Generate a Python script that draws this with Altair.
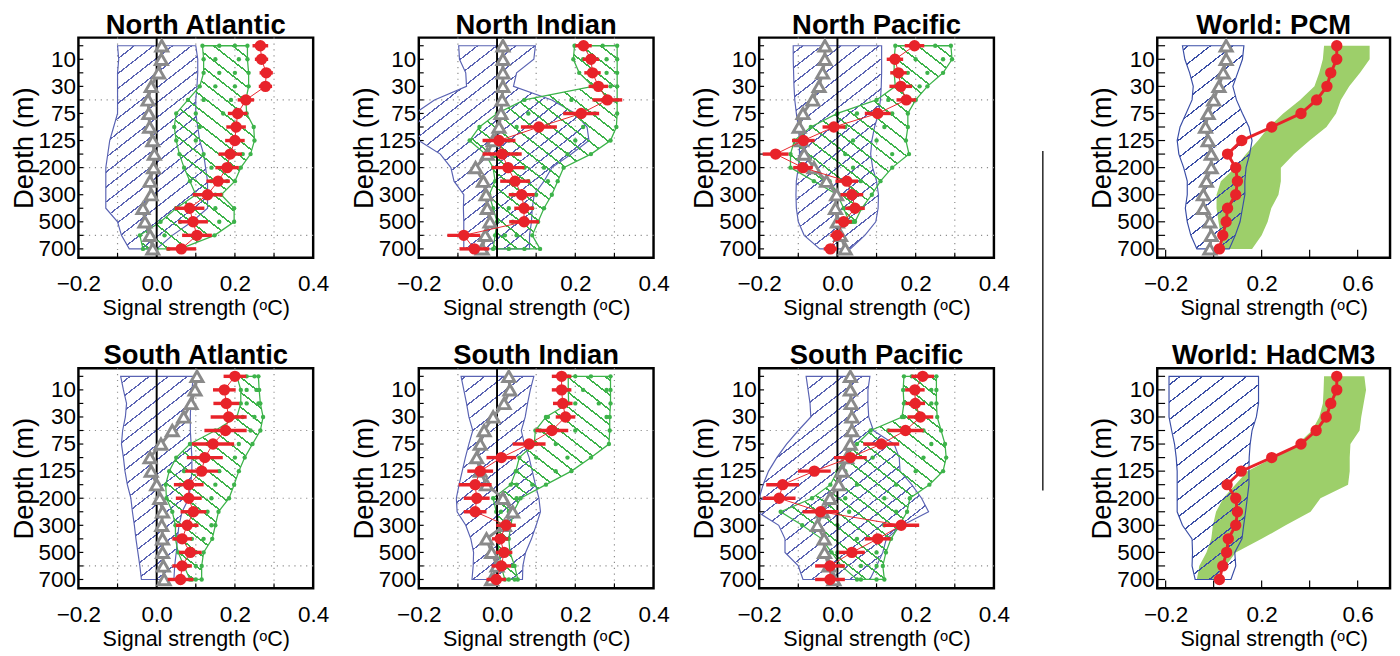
import json
import altair as alt
import pandas as pd
import numpy as np

# ---------------- data ----------------
LEVELS = list(range(16))
DEPTH_LABELS = ["10", "30", "75", "125", "200", "300", "500", "700"]
GRID_X = [-0.1, 0.1, 0.2, 0.3]
GRID_LEVELS = [4, 9, 14]
REG_XTICKS = [-0.1, 0.0, 0.1, 0.2, 0.3]
REG_XLABELS = [-0.2, 0.0, 0.2, 0.4]
WORLD_XTICKS = [-0.2, 0.0, 0.2, 0.4, 0.6]
WORLD_XLABELS = [-0.2, 0.2, 0.6]

NA_BLUE_LO = [-0.100, -0.097, -0.100, -0.100, -0.100, -0.100, -0.110, -0.120, -0.125, -0.130, -0.130, -0.130, -0.130, -0.100, -0.090, -0.070]
NA_BLUE_HI = [0.100, 0.105, 0.105, 0.103, 0.100, 0.100, 0.105, 0.110, 0.120, 0.125, 0.130, 0.130, 0.130, 0.090, 0.040, 0.000]
NA_GREEN_LO = [0.117, 0.120, 0.120, 0.110, 0.080, 0.050, 0.045, 0.050, 0.058, 0.070, 0.085, 0.100, 0.050, 0.010, -0.043, -0.035]
NA_GREEN_HI = [0.232, 0.232, 0.235, 0.235, 0.228, 0.230, 0.248, 0.250, 0.240, 0.215, 0.200, 0.165, 0.198, 0.198, 0.148, 0.060]
NA_GREEN_A = [0.160, 0.150, 0.160, 0.150, 0.120, 0.100, 0.110, 0.100, 0.120, 0.140, 0.140, 0.120, 0.080, 0.060, 0.020, 0.000]
NA_GREEN_B = [0.200, 0.210, 0.200, 0.200, 0.190, 0.170, 0.200, 0.200, 0.220, 0.190, 0.180, 0.150, 0.150, 0.160, 0.100, 0.030]
NA_GRAY = [0.013, 0.012, 0.005, -0.014, -0.022, -0.020, -0.018, -0.010, -0.006, -0.008, -0.017, -0.014, -0.035, -0.030, -0.017, -0.010]
NA_RED = [0.265, 0.268, 0.280, 0.278, 0.228, 0.207, 0.203, 0.200, 0.188, 0.180, 0.157, 0.130, 0.084, 0.093, 0.103, 0.063]
NA_ERR = [0.020, 0.017, 0.017, 0.017, 0.021, 0.025, 0.025, 0.025, 0.030, 0.030, 0.030, 0.038, 0.038, 0.038, 0.038, 0.038]

NI_BLUE_LO = [-0.098, -0.096, -0.080, -0.078, -0.160, -0.210, -0.220, -0.200, -0.145, -0.118, -0.110, -0.085, -0.086, -0.085, -0.085, -0.085]
NI_BLUE_HI = [0.098, 0.094, 0.050, 0.042, 0.140, 0.200, 0.230, 0.235, 0.190, 0.140, 0.120, 0.095, 0.090, 0.088, 0.083, 0.083]
NI_GREEN_LO = [0.198, 0.195, 0.210, 0.245, 0.070, 0.000, -0.045, -0.070, -0.030, -0.010, -0.005, -0.020, -0.010, 0.000, -0.005, -0.010]
NI_GREEN_HI = [0.307, 0.307, 0.307, 0.307, 0.307, 0.307, 0.305, 0.290, 0.240, 0.170, 0.155, 0.140, 0.120, 0.105, 0.090, 0.110]
NI_GREEN_A = [0.220, 0.220, 0.240, 0.260, 0.190, 0.080, 0.050, 0.030, 0.050, 0.070, 0.080, 0.040, 0.030, 0.040, 0.020, 0.030]
NI_GREEN_B = [0.270, 0.280, 0.280, 0.290, 0.270, 0.250, 0.220, 0.200, 0.180, 0.120, 0.130, 0.100, 0.090, 0.070, 0.050, 0.070]
NI_GRAY = [0.015, 0.015, 0.015, 0.015, 0.013, 0.010, 0.005, -0.010, -0.025, -0.055, -0.035, -0.028, -0.025, -0.018, -0.030, -0.038]
NI_RED = [0.221, 0.240, 0.244, 0.259, 0.282, 0.215, 0.107, 0.005, 0.013, 0.028, 0.046, 0.063, 0.069, 0.069, -0.085, -0.058]
NI_ERR = [0.021, 0.021, 0.021, 0.025, 0.038, 0.046, 0.046, 0.042, 0.050, 0.042, 0.038, 0.033, 0.025, 0.038, 0.042, 0.038]

NP_BLUE_LO = [-0.113, -0.113, -0.112, -0.111, -0.109, -0.105, -0.100, -0.097, -0.097, -0.100, -0.105, -0.106, -0.105, -0.100, -0.085, -0.045]
NP_BLUE_HI = [0.113, 0.113, 0.113, 0.112, 0.110, 0.105, 0.095, 0.088, 0.085, 0.090, 0.100, 0.105, 0.104, 0.098, 0.070, 0.033]
NP_GREEN_LO = [0.148, 0.145, 0.145, 0.148, 0.100, 0.000, -0.068, -0.110, -0.120, -0.120, -0.060, 0.000, 0.016, 0.030]
NP_GREEN_HI = [0.290, 0.293, 0.270, 0.230, 0.200, 0.180, 0.180, 0.175, 0.183, 0.140, 0.110, 0.088, 0.062, 0.045]
NP_GREEN_A = [0.190, 0.200, 0.180, 0.170, 0.130, 0.050, 0.020, 0.040, 0.020, -0.060, -0.020, 0.020, 0.030, 0.035]
NP_GREEN_B = [0.250, 0.270, 0.230, 0.210, 0.180, 0.140, 0.120, 0.100, 0.140, 0.040, 0.060, 0.050, 0.050, 0.040]
NP_GRAY = [-0.032, -0.032, -0.038, -0.047, -0.063, -0.088, -0.098, -0.092, -0.085, -0.060, -0.028, -0.002, -0.005, 0.000, 0.008, 0.020]
NP_RED = [0.197, 0.147, 0.156, 0.162, 0.176, 0.103, -0.009, -0.087, -0.158, -0.088, 0.024, 0.037, 0.045, 0.016, -0.001, -0.018]
NP_ERR = [0.025, 0.021, 0.021, 0.029, 0.025, 0.033, 0.029, 0.029, 0.033, 0.025, 0.029, 0.029, 0.025, 0.021, 0.017, 0.017]

SA_BLUE_LO = [-0.092, -0.085, -0.077, -0.080, -0.087, -0.090, -0.085, -0.081, -0.075, -0.066, -0.062, -0.057, -0.053, -0.048, -0.043, -0.039]
SA_BLUE_HI = [0.094, 0.090, 0.087, 0.086, 0.086, 0.088, 0.090, 0.090, 0.087, 0.082, 0.065, 0.057, 0.053, 0.050, 0.046, 0.044]
SA_GREEN_LO = [0.205, 0.215, 0.215, 0.205, 0.150, 0.085, 0.050, 0.032, 0.023, 0.025, 0.040, 0.048, 0.048, 0.055, 0.070, 0.085]
SA_GREEN_HI = [0.260, 0.262, 0.265, 0.272, 0.265, 0.245, 0.225, 0.210, 0.198, 0.185, 0.158, 0.150, 0.142, 0.120, 0.115, 0.115]
SA_GREEN_A = [0.230, 0.230, 0.230, 0.220, 0.180, 0.130, 0.100, 0.070, 0.060, 0.070, 0.090, 0.100, 0.090, 0.080, 0.080, 0.090]
SA_GREEN_B = [0.250, 0.255, 0.260, 0.250, 0.240, 0.210, 0.200, 0.160, 0.150, 0.140, 0.130, 0.140, 0.120, 0.100, 0.100, 0.100]
SA_GRAY = [0.103, 0.098, 0.088, 0.069, 0.040, 0.011, -0.017, -0.014, 0.000, 0.008, 0.015, 0.013, 0.015, 0.015, 0.017, 0.019]
SA_RED = [0.200, 0.173, 0.178, 0.184, 0.176, 0.144, 0.123, 0.115, 0.082, 0.082, 0.094, 0.078, 0.065, 0.086, 0.065, 0.061]
SA_ERR = [0.029, 0.029, 0.033, 0.046, 0.054, 0.054, 0.046, 0.042, 0.038, 0.033, 0.033, 0.029, 0.025, 0.029, 0.025, 0.033]

SI_BLUE_LO = [-0.092, -0.085, -0.078, -0.072, -0.062, -0.072, -0.081, -0.089, -0.097, -0.104, -0.102, -0.080, -0.067, -0.060, -0.061, -0.064]
SI_BLUE_HI = [0.094, 0.085, 0.078, 0.072, 0.062, 0.070, 0.082, 0.090, 0.098, 0.107, 0.111, 0.100, 0.088, 0.073, 0.066, 0.065]
SI_GREEN_LO = [0.182, 0.182, 0.183, 0.125, 0.098, 0.095, 0.057, 0.048, 0.035, -0.010, -0.002, 0.005, 0.000, 0.005, 0.010, 0.020]
SI_GREEN_HI = [0.290, 0.290, 0.290, 0.288, 0.288, 0.286, 0.240, 0.190, 0.125, 0.060, 0.042, 0.035, 0.030, 0.033, 0.045, 0.053]
SI_GREEN_A = [0.200, 0.220, 0.200, 0.130, 0.110, 0.100, 0.100, 0.050, 0.050, 0.020, 0.010, 0.010, 0.010, 0.015, 0.020, 0.030]
SI_GREEN_B = [0.240, 0.280, 0.260, 0.280, 0.200, 0.150, 0.180, 0.150, 0.090, 0.050, 0.030, 0.030, 0.025, 0.030, 0.040, 0.045]
SI_GRAY = [0.030, 0.033, 0.018, -0.010, -0.033, -0.043, -0.052, -0.043, -0.027, 0.015, 0.040, 0.019, -0.027, -0.014, 0.000, -0.014]
SI_RED = [0.165, 0.165, 0.168, 0.175, 0.140, 0.082, 0.011, -0.043, -0.056, -0.052, -0.056, 0.023, 0.008, 0.018, 0.011, -0.002]
SI_ERR = [0.025, 0.025, 0.025, 0.025, 0.042, 0.042, 0.038, 0.033, 0.042, 0.033, 0.029, 0.025, 0.021, 0.021, 0.025, 0.025]

SP_BLUE_LO = [-0.080, -0.075, -0.070, -0.068, -0.100, -0.130, -0.155, -0.176, -0.190, -0.200, -0.205, -0.150, -0.134, -0.134, -0.100, -0.088]
SP_BLUE_HI = [0.083, 0.078, 0.078, 0.080, 0.092, 0.145, 0.158, 0.160, 0.190, 0.215, 0.233, 0.166, 0.125, 0.116, 0.100, 0.083]
SP_GREEN_LO = [0.170, 0.168, 0.170, 0.165, 0.085, 0.050, 0.020, 0.000, -0.018, -0.065, -0.145, -0.090, -0.040, -0.015, 0.010, 0.050]
SP_GREEN_HI = [0.253, 0.253, 0.253, 0.255, 0.265, 0.275, 0.278, 0.270, 0.235, 0.185, 0.178, 0.158, 0.137, 0.124, 0.116, 0.120]
SP_GREEN_A = [0.190, 0.190, 0.200, 0.170, 0.130, 0.100, 0.090, 0.020, 0.050, 0.020, 0.030, 0.000, 0.050, 0.000, 0.060, 0.060]
SP_GREEN_B = [0.230, 0.240, 0.240, 0.200, 0.220, 0.240, 0.220, 0.200, 0.150, 0.120, 0.150, 0.120, 0.100, 0.100, 0.100, 0.100]
SP_GRAY = [0.033, 0.033, 0.035, 0.037, 0.037, 0.033, 0.024, 0.012, 0.003, -0.019, -0.038, -0.051, -0.034, -0.033, -0.022, -0.009]
SP_RED = [0.218, 0.198, 0.199, 0.212, 0.174, 0.112, 0.033, -0.059, -0.140, -0.149, -0.043, 0.163, 0.103, 0.037, -0.019, -0.019]
SP_ERR = [0.029, 0.025, 0.025, 0.033, 0.046, 0.046, 0.042, 0.042, 0.042, 0.042, 0.046, 0.046, 0.033, 0.033, 0.038, 0.038]

PCM_BLUE_LO = [-0.130, -0.120, -0.100, -0.085, -0.090, -0.115, -0.140, -0.152, -0.145, -0.125, -0.110, -0.110, -0.118, -0.110, -0.095, -0.070]
PCM_BLUE_HI = [0.126, 0.120, 0.100, 0.080, 0.095, 0.120, 0.147, 0.160, 0.150, 0.135, 0.130, 0.130, 0.120, 0.110, 0.090, 0.065]
PCM_GREEN_LO = [0.460, 0.455, 0.440, 0.420, 0.360, 0.290, 0.230, 0.185, 0.135, 0.090, 0.030, 0.012, 0.012, 0.020, 0.030, 0.040]
PCM_GREEN_HI = [0.650, 0.650, 0.610, 0.565, 0.530, 0.510, 0.470, 0.400, 0.335, 0.280, 0.280, 0.270, 0.240, 0.225, 0.200, 0.160]
PCM_GRAY = [0.052, 0.052, 0.040, 0.022, 0.000, -0.023, -0.034, -0.023, -0.010, -0.010, -0.030, -0.043, -0.043, -0.016, -0.010, -0.016]
PCM_RED = [0.513, 0.513, 0.488, 0.472, 0.429, 0.364, 0.242, 0.117, 0.058, 0.092, 0.099, 0.092, 0.058, 0.052, 0.038, 0.024]

HAD_BLUE_LO = [-0.186, -0.186, -0.186, -0.186, -0.175, -0.163, -0.156, -0.152, -0.152, -0.152, -0.152, -0.130, -0.090, -0.088, -0.090, -0.077]
HAD_BLUE_HI = [0.187, 0.187, 0.187, 0.178, 0.160, 0.152, 0.148, 0.147, 0.147, 0.140, 0.133, 0.125, 0.118, 0.088, 0.092, 0.072]
HAD_GREEN_LO = [0.460, 0.458, 0.455, 0.440, 0.410, 0.350, 0.250, 0.140, 0.090, 0.040, 0.010, -0.003, -0.010, -0.030, -0.060, -0.070]
HAD_GREEN_HI = [0.628, 0.635, 0.625, 0.615, 0.608, 0.570, 0.567, 0.567, 0.560, 0.445, 0.404, 0.300, 0.200, 0.092, 0.050, 0.000]
HAD_RED = [0.513, 0.513, 0.488, 0.469, 0.427, 0.364, 0.242, 0.115, 0.056, 0.092, 0.099, 0.092, 0.061, 0.054, 0.038, 0.024]

# ---------------- style ----------------
FONT = "Liberation Sans"
RED = "#e8232a"
GRAY = "#8a8a8a"
GREEN = "#3db34a"
BLUE = "#5a63b3"
WBLUE = "#3a4ea6"
LGREEN = "#9dcf6a"
CLEAR = "rgba(255,255,255,0)"

PW, PH = 240, 225          # regional plot size
WW = 238                   # world plot width
YDOM = [-0.6, 15.65]
XDOM = [-0.2, 0.4]
WXDOM = [-0.235, 0.735]
PXL = PH / (YDOM[1] - YDOM[0])

LABEL_EXPR = ("datum.value % 2 == 1 ? " + json.dumps(DEPTH_LABELS)
              + "[(datum.value - 1) / 2] : ''")


def hatch(lo, hi, n, pxu, color, period, lw, theta, slash):
    """Diagonal stripe fill as a linear gradient in bounding-box units."""
    W = (max(hi) - min(lo)) * pxu
    H = (n - 1) * PXL
    s, c = np.sin(np.radians(theta)), np.cos(np.radians(theta))
    D = W * s + H * c
    k = D / (W * W * s * s + H * H * c * c)
    dx, dy = k * W * s, k * H * c
    if slash:
        x1, y1, x2, y2 = 0.0, 0.0, dx, dy
    else:
        x1, y1, x2, y2 = 0.0, 1.0, dx, 1.0 - dy
    hw = lw / 2.0 / D
    stops = [alt.GradientStop(offset=0, color=CLEAR)]
    t = (period * 0.5) / D
    while t + hw < 1:
        a, b = round(float(t - hw), 5), round(float(t + hw), 5)
        stops += [alt.GradientStop(offset=a, color=CLEAR),
                  alt.GradientStop(offset=a, color=color),
                  alt.GradientStop(offset=b, color=color),
                  alt.GradientStop(offset=b, color=CLEAR)]
        t += period / D
    stops.append(alt.GradientStop(offset=1, color=CLEAR))
    return alt.LinearGradient(gradient="linear", stops=stops,
                              x1=float(x1), y1=float(y1),
                              x2=round(float(x2), 5), y2=round(float(y2), 5))


def yaxis():
    return alt.Axis(title="Depth (m)", values=LEVELS, labelExpr=LABEL_EXPR,
                    ticks=False, tickSize=0, domain=False, grid=False,
                    labelFontSize=23, labelPadding=3, labelOverlap=False,
                    titleFontSize=28, titlePadding=0, titleFontWeight="normal")


def xaxis(values):
    return alt.Axis(title="Signal strength (ᵒC)", values=values, format=".1f",
                    ticks=False, tickSize=0, domain=False, grid=False,
                    labelFontSize=23, labelPadding=16, labelFlush=False,
                    labelOverlap=False, titleFontSize=22, titlePadding=2,
                    titleFontWeight="normal")


def band_df(lo, hi):
    return pd.DataFrame({"level": LEVELS[:len(lo)], "lo": lo, "hi": hi})


def panel(title, xdom, width, xlabels, xticks, tick_len, blue_lo, blue_hi,
          blue_color, blue_period, red, err=None, gray=None,
          green_lo=None, green_hi=None, green_a=None, green_b=None,
          solid_green=False, grid=True, red_w=1.0):
    pxu = width / (xdom[1] - xdom[0])
    xs = alt.Scale(domain=xdom, nice=False, zero=False)
    ys = alt.Scale(domain=YDOM, nice=False, zero=False, reverse=True)
    xa = xaxis(xlabels)
    ya = yaxis()

    def X(f):
        return alt.X(f, type="quantitative", scale=xs, axis=xa)

    def Y(f="level"):
        return alt.Y(f, type="quantitative", scale=ys, axis=ya)

    layers = []
    if grid:
        layers.append(alt.Chart(pd.DataFrame({"x": GRID_X})).mark_rule(
            color="#8c8c8c", strokeWidth=1.2, strokeDash=[1.2, 4.8]).encode(x=X("x")))
        layers.append(alt.Chart(pd.DataFrame({"level": GRID_LEVELS})).mark_rule(
            color="#8c8c8c", strokeWidth=1.2, strokeDash=[1.2, 4.8]).encode(y=Y()))
    # inward ticks
    layers.append(alt.Chart(pd.DataFrame({"level": LEVELS})).mark_rule(
        color="black", strokeWidth=1.2).encode(
        y=Y(), x=alt.value(0), x2=alt.value(tick_len)))
    layers.append(alt.Chart(pd.DataFrame({"x": xticks})).mark_rule(
        color="black", strokeWidth=1.2).encode(
        x=X("x"), y=alt.value(PH), y2=alt.value(PH - tick_len)))

    if solid_green:
        layers.append(alt.Chart(band_df(green_lo, green_hi)).mark_area(
            orient="horizontal", fill=LGREEN, opacity=1, clip=True).encode(
            y=Y(), x=X("lo"), x2=alt.X2("hi")))

    blue_grad = hatch(blue_lo, blue_hi, len(blue_lo), pxu, blue_color,
                      blue_period, 1.3, 38, True)
    layers.append(alt.Chart(band_df(blue_lo, blue_hi)).mark_area(
        orient="horizontal", fill=blue_grad, stroke=blue_color, strokeWidth=1.2,
        opacity=1, clip=True).encode(y=Y(), x=X("lo"), x2=alt.X2("hi")))

    if green_lo is not None and not solid_green:
        green_grad = hatch(green_lo, green_hi, len(green_lo), pxu, GREEN,
                           12, 1.6, 38, False)
        layers.append(alt.Chart(band_df(green_lo, green_hi)).mark_area(
            orient="horizontal", fill=green_grad, stroke=GREEN, strokeWidth=1.3,
            opacity=1, clip=True).encode(y=Y(), x=X("lo"), x2=alt.X2("hi")))
        rows = []
        for i in range(len(green_lo)):
            for v in (green_lo[i], green_a[i], green_b[i], green_hi[i]):
                rows.append({"level": i, "x": v})
        layers.append(alt.Chart(pd.DataFrame(rows)).mark_circle(
            color=GREEN, size=20, opacity=1).encode(y=Y(), x=X("x")))

    if grid:
        layers.append(alt.Chart(pd.DataFrame({"x": [0.0]})).mark_rule(
            color="black", strokeWidth=2).encode(x=X("x")))

    if gray is not None:
        gdf = pd.DataFrame({"level": LEVELS, "x": gray})
        layers.append(alt.Chart(gdf).mark_line(color=GRAY, strokeWidth=3).encode(
            y=Y(), x=X("x"), order=alt.Order("level:Q")))
        layers.append(alt.Chart(gdf).mark_point(
            shape="triangle-up", filled=True, fill="white", stroke=GRAY,
            strokeWidth=3, size=150, opacity=1).encode(y=Y(), x=X("x")))

    rdf = pd.DataFrame({"level": LEVELS, "x": red})
    layers.append(alt.Chart(rdf).mark_line(color=RED, strokeWidth=red_w).encode(
        y=Y(), x=X("x"), order=alt.Order("level:Q")))
    if err is not None:
        edf = pd.DataFrame({"level": LEVELS,
                            "lo": [r - e for r, e in zip(red, err)],
                            "hi": [r + e for r, e in zip(red, err)]})
        layers.append(alt.Chart(edf).mark_rule(color=RED, strokeWidth=3.5).encode(
            y=Y(), x=X("lo"), x2=alt.X2("hi")))
    layers.append(alt.Chart(rdf).mark_circle(color=RED, size=135, opacity=1).encode(
        y=Y(), x=X("x")))

    # panel title as a text mark just above the frame
    layers.append(alt.Chart(pd.DataFrame({"t": [title]})).mark_text(
        font=FONT, fontSize=28, fontWeight="bold", baseline="alphabetic",
        align="center", color="black").encode(
        x=alt.value(width / 2), y=alt.value(-4), text=alt.Text("t:N")))

    return alt.layer(*layers).properties(width=width, height=PH)


def regional(title, bl, bh, gl, gh, ga, gb, gray, red, err):
    return panel(title, XDOM, PW, REG_XLABELS, REG_XTICKS, 5, bl, bh, BLUE, 12,
                 red, err=err, gray=gray, green_lo=gl, green_hi=gh,
                 green_a=ga, green_b=gb)


NA = regional("North Atlantic", NA_BLUE_LO, NA_BLUE_HI, NA_GREEN_LO, NA_GREEN_HI,
              NA_GREEN_A, NA_GREEN_B, NA_GRAY, NA_RED, NA_ERR)
NI = regional("North Indian", NI_BLUE_LO, NI_BLUE_HI, NI_GREEN_LO, NI_GREEN_HI,
              NI_GREEN_A, NI_GREEN_B, NI_GRAY, NI_RED, NI_ERR)
NP = regional("North Pacific", NP_BLUE_LO, NP_BLUE_HI, NP_GREEN_LO, NP_GREEN_HI,
              NP_GREEN_A, NP_GREEN_B, NP_GRAY, NP_RED, NP_ERR)
SA = regional("South Atlantic", SA_BLUE_LO, SA_BLUE_HI, SA_GREEN_LO, SA_GREEN_HI,
              SA_GREEN_A, SA_GREEN_B, SA_GRAY, SA_RED, SA_ERR)
SI = regional("South Indian", SI_BLUE_LO, SI_BLUE_HI, SI_GREEN_LO, SI_GREEN_HI,
              SI_GREEN_A, SI_GREEN_B, SI_GRAY, SI_RED, SI_ERR)
SP = regional("South Pacific", SP_BLUE_LO, SP_BLUE_HI, SP_GREEN_LO, SP_GREEN_HI,
              SP_GREEN_A, SP_GREEN_B, SP_GRAY, SP_RED, SP_ERR)

PCM = panel("World: PCM", WXDOM, WW, WORLD_XLABELS, WORLD_XTICKS, 8,
            PCM_BLUE_LO, PCM_BLUE_HI, WBLUE, 14, PCM_RED, gray=PCM_GRAY,
            green_lo=PCM_GREEN_LO, green_hi=PCM_GREEN_HI, solid_green=True,
            grid=False, red_w=3)
HAD = panel("World: HadCM3", WXDOM, WW, WORLD_XLABELS, WORLD_XTICKS, 8,
            HAD_BLUE_LO, HAD_BLUE_HI, WBLUE, 14, HAD_RED,
            green_lo=HAD_GREEN_LO, green_hi=HAD_GREEN_HI, solid_green=True,
            grid=False, red_w=3)

SEP = alt.Chart(pd.DataFrame({"v": [0]})).mark_rule(
    color="#222222", strokeWidth=1.5).encode(
    x=alt.value(10), y=alt.value(116), y2=alt.value(463)).properties(
    width=34, height=465, view=alt.ViewBackground(stroke="transparent"))

left = alt.vconcat(alt.hconcat(NA, NI, NP, spacing=19),
                   alt.hconcat(SA, SI, SP, spacing=19), spacing=21)
right = alt.vconcat(PCM, HAD, spacing=21)

chart = alt.hconcat(left, SEP, right, spacing=20).properties(
    padding={"left": 1, "top": -5, "right": 0, "bottom": 0}
).configure(font=FONT).configure_view(
    stroke="black", strokeWidth=2.5
).configure_axis(
    labelFont=FONT, titleFont=FONT, labelColor="black", titleColor="black"
)

chart.save("out.html", embed_options={"renderer": "svg", "actions": False})
